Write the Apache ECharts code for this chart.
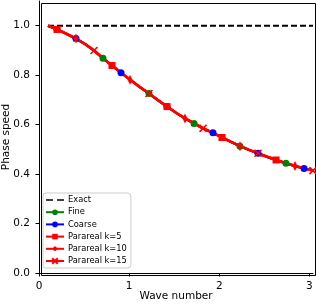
<!DOCTYPE html>
<html>
<head>
<meta charset="utf-8">
<script src="https://cdn.jsdelivr.net/npm/echarts@6/dist/echarts.min.js"></script>
<style>html,body{margin:0;padding:0;background:#fff}#c{width:316px;height:304px}</style>
</head>
<body>
<div id="c"></div>
<script>
const waveNumber = [0.10,0.20,0.30,0.41,0.51,0.61,0.71,0.81,0.91,1.01,1.11,1.22,1.32,1.42,1.52,1.62,1.72,1.82,1.93,2.03,2.13,2.23,2.33,2.43,2.53,2.63,2.74,2.84,2.94,3.04];
const exactSpeed = [1.000,1.000,1.000,1.000,1.000,1.000,1.000,1.000,1.000,1.000,1.000,1.000,1.000,1.000,1.000,1.000,1.000,1.000,1.000,1.000,1.000,1.000,1.000,1.000,1.000,1.000,1.000,1.000,1.000,1.000];
const fineSpeed = [1.000,0.985,0.968,0.948,0.926,0.900,0.868,0.839,0.810,0.782,0.754,0.726,0.699,0.673,0.648,0.625,0.605,0.585,0.567,0.548,0.530,0.513,0.498,0.484,0.470,0.457,0.444,0.433,0.423,0.414];
const coarseSpeed = [1.000,0.985,0.968,0.948,0.926,0.900,0.868,0.839,0.810,0.782,0.754,0.726,0.699,0.673,0.648,0.625,0.605,0.585,0.567,0.548,0.530,0.513,0.498,0.484,0.470,0.457,0.444,0.433,0.423,0.414];
const parareal5 = [1.000,0.985,0.968,0.948,0.926,0.900,0.868,0.839,0.810,0.782,0.754,0.726,0.699,0.673,0.648,0.625,0.605,0.585,0.567,0.548,0.530,0.513,0.498,0.484,0.470,0.457,0.444,0.433,0.423,0.414];
const parareal10 = [1.000,0.985,0.968,0.948,0.926,0.900,0.868,0.839,0.810,0.782,0.754,0.726,0.699,0.673,0.648,0.625,0.605,0.585,0.567,0.548,0.530,0.513,0.498,0.484,0.470,0.457,0.444,0.433,0.423,0.414];
const parareal15 = [1.000,0.985,0.968,0.948,0.926,0.900,0.868,0.839,0.810,0.782,0.754,0.726,0.699,0.673,0.648,0.625,0.605,0.585,0.567,0.548,0.530,0.513,0.498,0.484,0.470,0.457,0.444,0.433,0.423,0.414];
const xTicks = ['0','1','2','3'];
const yTicks = ['0.0','0.2','0.4','0.6','0.8','1.0'];
const seriesNames = ['Exact','Fine','Coarse','Parareal k=5','Parareal k=10','Parareal k=15'];
// marker positions (index start, step) like matplotlib markevery
const markEvery = {fine:[1,5], coarse:[3,5], p5:[1,6], p10:[3,6], p15:[5,6]};

function build(vals, me) {
  return waveNumber.map((x, i) => {
    const on = me && i >= me[0] && (i - me[0]) % me[1] === 0;
    return on ? {value:[x, vals[i]]} : {value:[x, vals[i]], symbol:'none'};
  });
}
const FONT = 'DejaVu Sans';
const chart = echarts.init(document.getElementById('c'), null, {renderer:'canvas'});
const xPath = 'path://M0,0L10,10M10,0L0,10';
const dashIcon = 'path://M0,4.3L7,4.3L7,5.7L0,5.7ZM11,4.3L18,4.3L18,5.7L11,5.7Z';
chart.setOption({
  animation:false,
  grid:{left:39, right:3, top:1, bottom:31, containLabel:false, outerBoundsMode:'none', show:false},
  xAxis:{type:'value', min:0, max:3.04, interval:1,
    name:'Wave number', nameLocation:'middle', nameGap:18, nameMoveOverlap:false,
    nameTextStyle:{fontFamily:FONT, fontSize:10.5, color:'#000'},
    axisLine:{show:true, onZero:false, lineStyle:{color:'#000', width:1}},
    axisTick:{show:true, length:3.5, lineStyle:{color:'#000'}},
    axisLabel:{fontFamily:FONT, fontSize:10.5, color:'#000', margin:8,
      formatter:v => (Math.abs(v - Math.round(v)) < 1e-9 && v <= 3) ? xTicks[Math.round(v)] : '', showMaxLabel:false},
    splitLine:{show:false}},
  yAxis:{type:'value', min:0, max:1.1, interval:0.2,
    name:'Phase speed', nameLocation:'middle', nameGap:27, nameMoveOverlap:false,
    nameTextStyle:{fontFamily:FONT, fontSize:10.5, color:'#000'},
    axisLine:{show:true, onZero:false, lineStyle:{color:'#000', width:1}},
    axisTick:{show:true, length:3.5, lineStyle:{color:'#000'}},
    axisLabel:{fontFamily:FONT, fontSize:10.5, color:'#000', margin:9,
      formatter:v => { const k = Math.round(v/0.2); return (Math.abs(v-k*0.2)<1e-9 && k<=5) ? yTicks[k] : ''; }, showMaxLabel:false},
    splitLine:{show:false}},
  legend:{left:43, top:193, orient:'vertical', itemWidth:18, itemHeight:7, itemGap:4.2,
    padding:[3,4,3,2], backgroundColor:'rgba(255,255,255,0.8)', borderColor:'#ccc', borderWidth:1, borderRadius:3,
    textStyle:{fontFamily:FONT, fontSize:8.3, color:'#000', padding:[0,0,0,-1]},
    data:[{name:seriesNames[0], icon:dashIcon, itemStyle:{color:'#000'}}].concat(seriesNames.slice(1))},
  series:[
    {name:seriesNames[0], type:'line', data:build(exactSpeed, null), showSymbol:false, symbol:'none',
      lineStyle:{color:'#000', width:1.8, type:[6,3]}, itemStyle:{color:'#000'}},
    {name:seriesNames[1], type:'line', data:build(fineSpeed, markEvery.fine), symbol:'circle', symbolSize:7,
      lineStyle:{color:'#008000', width:2}, itemStyle:{color:'#008000'}},
    {name:seriesNames[2], type:'line', data:build(coarseSpeed, markEvery.coarse), symbol:'circle', symbolSize:7,
      lineStyle:{color:'#0000ff', width:2}, itemStyle:{color:'#0000ff'}},
    {name:seriesNames[3], type:'line', data:build(parareal5, markEvery.p5), symbol:'rect', symbolSize:7,
      lineStyle:{color:'#ff0000', width:2.5}, itemStyle:{color:'#ff0000'}},
    {name:seriesNames[4], type:'line', data:build(parareal10, markEvery.p10), symbol:'diamond', symbolSize:[5,10],
      lineStyle:{color:'#ff0000', width:2.5}, itemStyle:{color:'#ff0000'}},
    {name:seriesNames[5], type:'line', data:build(parareal15, markEvery.p15), symbol:xPath, symbolSize:7,
      lineStyle:{color:'#ff0000', width:2.5}, itemStyle:{color:'#ff0000', borderColor:'#ff0000', borderWidth:1.5}}
  ],
  graphic:[{type:'rect', left:39, top:1, shape:{width:274, height:272}, style:{fill:'none', stroke:'#000', lineWidth:1}, z:-1, silent:true}]
});
</script>
</body>
</html>
